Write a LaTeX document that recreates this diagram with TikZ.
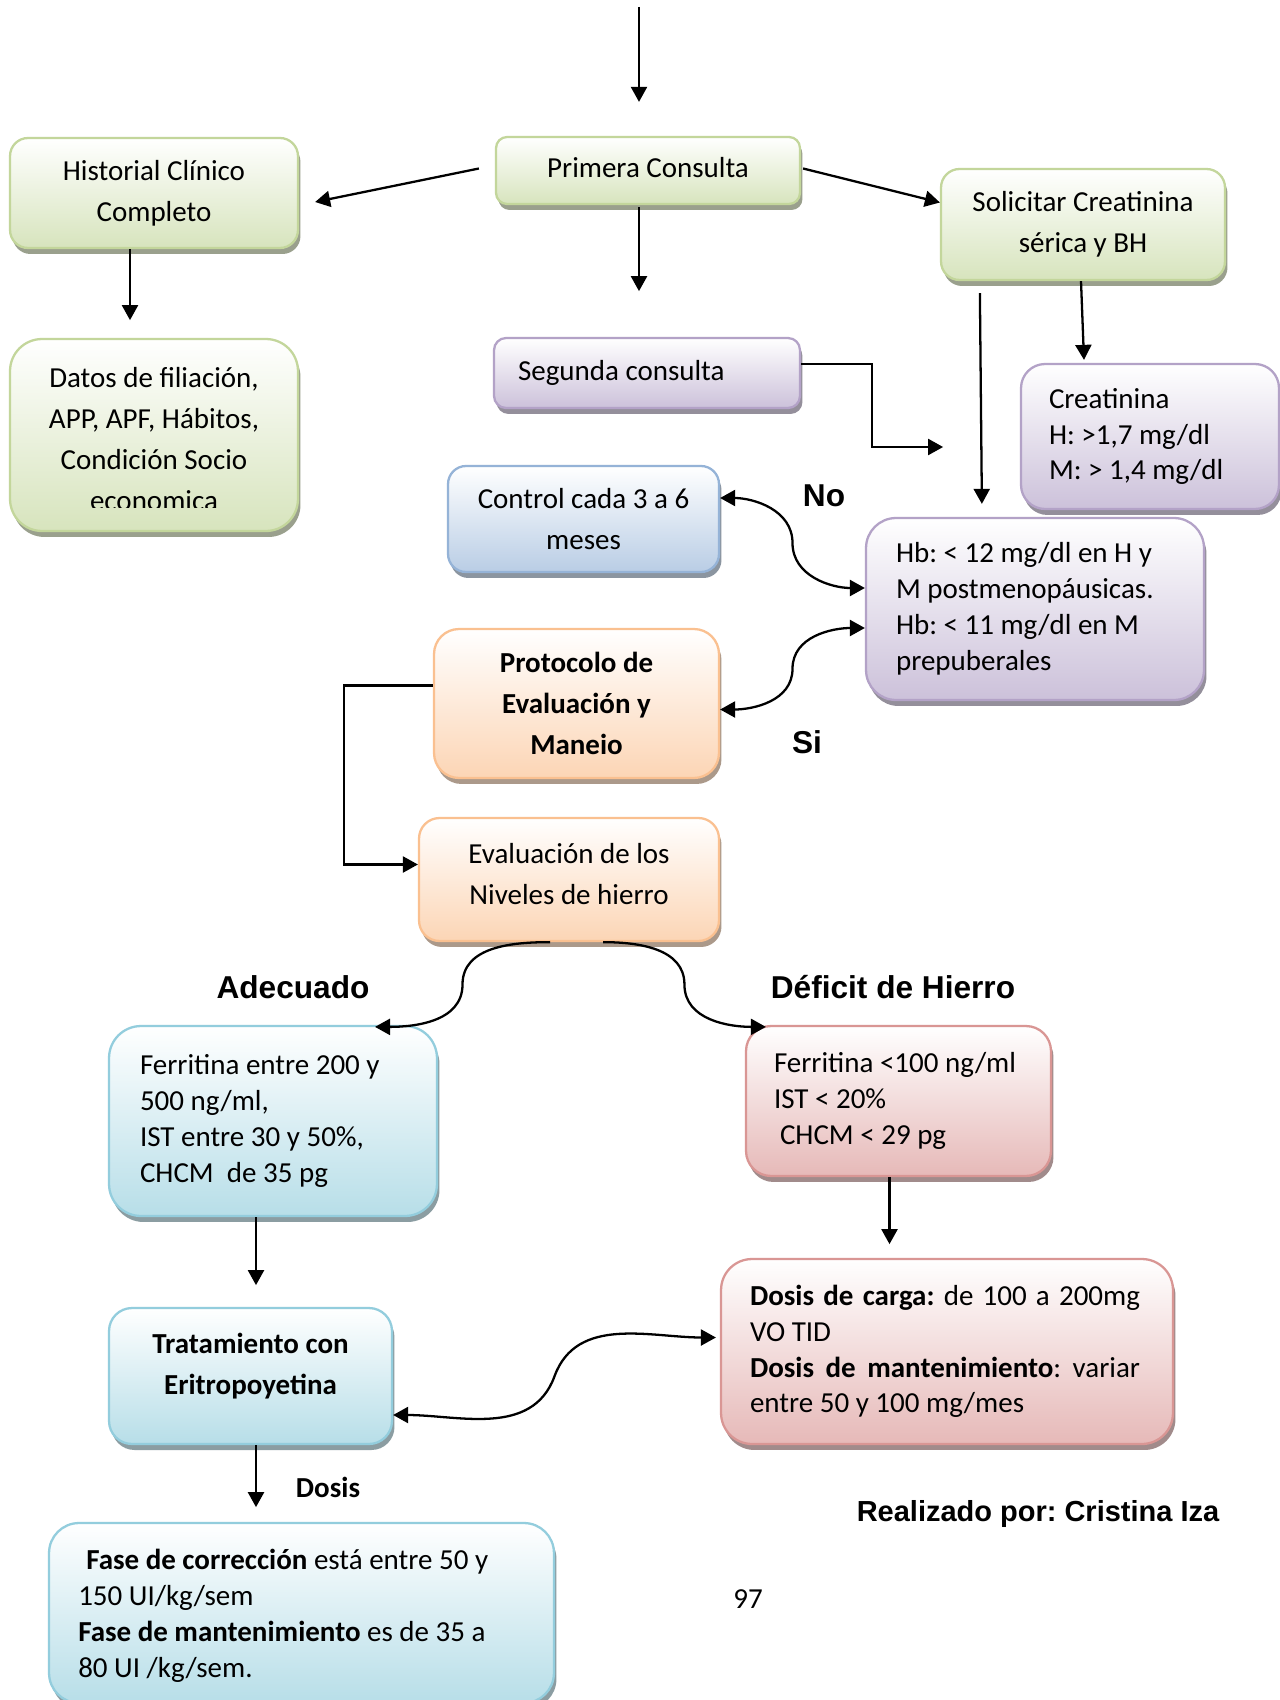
\documentclass[tikz,border=0pt]{standalone}
\usepackage{fontspec}
\setmainfont{Carlito}
\newfontfamily\arialfont{Liberation Sans}
\frenchspacing
\usetikzlibrary{arrows.meta,calc,shadows}
\definecolor{grnline}{HTML}{C3D69B}
\definecolor{grnfill}{HTML}{D7E4BD}
\definecolor{prpline}{HTML}{B3A2C7}
\definecolor{prpfill}{HTML}{CCC1DA}
\definecolor{bluline}{HTML}{95B3D7}
\definecolor{blufill}{HTML}{B9CDE5}
\definecolor{orgline}{HTML}{FAC090}
\definecolor{orgfill}{HTML}{FCD5B5}
\definecolor{cynline}{HTML}{93CDDD}
\definecolor{cynfill}{HTML}{B7DEE8}
\definecolor{redline}{HTML}{D99694}
\definecolor{redfill}{HTML}{E6B9B8}
\tikzset{
    box/.style={rectangle, draw=#1line, line width=1.3pt, rounded corners=0.4cm,
                top color=white, bottom color=#1fill,
                drop shadow={shadow xshift=0.05cm, shadow yshift=-0.12cm,
                             opacity=0.8, fill=#1fill!60!black},
                align=center, inner sep=0pt, font=\fontsize{16.5}{23.3}\selectfont},
    lbox/.style={box=#1, align=flush left, font=\fontsize{16.5}{20.4}\selectfont},
    txt/.style={align=center, inner sep=0pt, font=\fontsize{16.5}{23.3}\selectfont},
    lbl/.style={inner sep=0pt, font=\arialfont\bfseries\fontsize{18}{22}\selectfont},
    arr/.style={-{Triangle[length=0.3cm,width=0.32cm]}, line width=1.3pt},
    arrd/.style={{Triangle[length=0.3cm,width=0.32cm]}-{Triangle[length=0.3cm,width=0.32cm]}, line width=1.3pt},
}
\begin{document}
\begin{tikzpicture}[x=0.02cm, y=-0.02cm]
    \path[use as bounding box, fill=white] (0,0) rectangle (1280,1700);

    % First consultation
    \node[box=grn, minimum width=6.08cm, minimum height=1.34cm, rounded corners=0.22cm, text depth=0.14cm] (prim) at (648,170.5) {Primera Consulta};
    \node[box=grn, minimum width=5.76cm, minimum height=2.2cm, rounded corners=0.36cm]   (hist) at (154,193)   {Historial Clínico\\Completo};
    \node[box=grn, minimum width=5.68cm, minimum height=2.22cm, rounded corners=0.37cm]  (sol)  at (1083,224.5) {Solicitar Creatinina\\sérica y BH};

    \node[box=grn, minimum width=5.76cm, minimum height=3.84cm, rounded corners=0.64cm] (datos) at (154,435) {};
    \begin{scope}
        \clip (datos.north west) rectangle ($(datos.south east)+(0,-25)$);
        \node[txt] (datos-t) at ($(datos.center)+(0,4)$) {Datos de filiación,\\APP, APF, Hábitos,\\Condición Socio\\economica};
    \end{scope}

    \node[lbox=prp, minimum width=6.12cm, minimum height=1.4cm, rounded corners=0.24cm, text width=5.16cm, inner xsep=0.48cm] (seg) at (647,373) {Segunda consulta};
    \node[lbox=prp, minimum width=5.16cm, minimum height=2.9cm, rounded corners=0.48cm, text width=4.04cm, inner xsep=0.56cm] (crea) at (1150,436.5) {Creatinina\\H: >1,7 mg/dl\\M: > 1,4 mg/dl};
    \node[box=blu, minimum width=5.42cm, minimum height=2.12cm, rounded corners=0.36cm] (ctrl) at (583.5,519) {Control cada 3 a 6\\meses};
    \node[lbox=prp, minimum width=6.76cm, minimum height=3.64cm, rounded corners=0.6cm, text width=5.56cm, inner xsep=0.6cm] (hb) at (1035,609) {Hb: < 12 mg/dl en H y\\M postmenopáusicas.\\Hb: < 11 mg/dl en M\\prepuberales};

    % Protocol and iron levels
    \node[box=org, minimum width=5.7cm, minimum height=2.98cm, rounded corners=0.5cm, font=\bfseries\fontsize{16.5}{23.3}\selectfont] (prot) at (576.5,703.5) {Protocolo de\\Evaluación y\\Maneio};
    \node[box=org, minimum width=6cm, minimum height=2.46cm, rounded corners=0.41cm, text depth=0.23cm] (eval) at (569,879.5) {Evaluación de los\\Niveles de hierro};

    \node[lbox=cyn, minimum width=6.56cm, minimum height=3.8cm, rounded corners=0.64cm, text width=5.32cm, inner xsep=0.62cm] (fera) at (273,1121) {Ferritina entre 200 y\\500 ng/ml,\\IST entre 30 y 50\%,\\CHCM\ \ de 35 pg};
    \node[lbox=red, minimum width=6.1cm, minimum height=3cm, rounded corners=0.5cm, text width=4.98cm, inner xsep=0.56cm] (ferd) at (898.5,1101) {Ferritina <100 ng/ml\\IST < 20\%\\\hspace*{0.12cm}CHCM < 29 pg};

    % Treatment
    \node[box=cyn, minimum width=5.66cm, minimum height=2.72cm, rounded corners=0.46cm, text depth=0.5cm, font=\bfseries\fontsize{16.5}{23.3}\selectfont] (trat) at (250.5,1376) {Tratamiento con\\Eritropoyetina};
    \node[lbox=red, minimum width=9.04cm, minimum height=3.7cm, rounded corners=0.62cm, text width=7.88cm, inner xsep=0.58cm] (carga) at (947,1351.5) {\makebox[7.8cm][s]{\textbf{Dosis de carga:} de 100 a 200mg}\\VO TID\\\makebox[7.8cm][s]{\textbf{Dosis de mantenimiento}: variar}\\entre 50 y 100 mg/mes};

    \node[box=cyn, minimum width=10.1cm, minimum height=3.6cm, rounded corners=0.6cm] (fase) at (301.5,1613) {};
    \begin{scope}
        \clip (fase.north west) rectangle ($(fase.south east)+(0,-16)$);
        \node[txt, align=flush left, text width=8.6cm, anchor=west, font=\fontsize{16.5}{20.4}\selectfont] (fase-t) at ($(fase.west)+(30,3)$) {\hspace*{0.16cm}\textbf{Fase de corrección} está entre 50 y\\150 UI/kg/sem\\\textbf{Fase de mantenimiento} es de 35 a\\80 UI /kg/sem.};
    \end{scope}

    % Labels
    \node[lbl] (no)   at (824,496)  {No};
    \node[lbl] (si)   at (807,742)  {Si};
    \node[lbl] (adec) at (293,987)  {Adecuado};
    \node[lbl] (defi) at (893,987)  {Déficit de Hierro};
    \node[txt, font=\bfseries\fontsize{16.5}{20}\selectfont] (dlbl) at (328,1487) {Dosis};
    \node[lbl, font=\arialfont\bfseries\fontsize{16.5}{20}\selectfont] (autor) at (1038,1514) {Realizado por: Cristina Iza};
    \node[txt] (pag) at (748,1599) {97};

    % Straight connectors
    \coordinate (entry) at (639,7);
    \draw[arr] (entry) -- ($(prim.north)+(-9,-34)$);
    \draw[arr] ($(prim.west)+(-16,-2)$) -- ($(hist.east)+(16,9)$);
    \draw[arr] ($(prim.east)+(2,-2)$) -- ($(sol.west)+(0,-22)$);
    \draw[arr] ($(prim.south)+(-9,2)$) -- ++(0,84);
    \draw[arr] ($(hist.south)+(-24,0)$) -- ++(0,71);
    \draw[arr] ($(sol.south)+(-2,0)$) -- ($(crea.north)+(-66,-3)$);
    \draw[arr] ($(sol.south west)+(40,12)$) -- ($(hb.north west)+(117,-13)$);
    \draw[arr] ($(seg.east)+(0,-9)$) -- ++(71,0) -- ++(0,83) -- ++(71,0);
    \draw[arr] ($(prot.west)+(0,-18)$) -- ++(-89,0) |- ($(eval.west)+(0,-15)$);
    \draw[arr] ($(fera.south)+(-17,0)$) -- ++(0,68);
    \draw[arr] ($(ferd.south)+(-9,0)$) -- ++(0,67);
    \draw[arr] ($(trat.south)+(5.5,0)$) -- ++(0,62);

    % Curved connectors
    \coordinate (c1a) at ($(ctrl.east)+(0,-21)$);
    \coordinate (c1b) at ($(hb.west)+(0,-21)$);
    \draw[arrd] (c1a) to[out=0,in=90] ($(c1a)!0.5!(c1b)$) to[out=-90,in=180] (c1b);
    \coordinate (c2a) at ($(hb.west)+(0,19)$);
    \coordinate (c2b) at ($(prot.east)+(0,6)$);
    \draw[arrd] (c2a) to[out=180,in=90] ($(c2a)!0.5!(c2b)$) to[out=-90,in=0] (c2b);
    \coordinate (c3a) at ($(eval.south)+(-19,0)$);
    \coordinate (c3b) at ($(fera.north)+(102,2)$);
    \draw[arr] (c3a) to[out=180,in=90] ($(c3a)!0.5!(c3b)$) to[out=-90,in=0] (c3b);
    \coordinate (c4a) at ($(eval.south)+(34,0)$);
    \coordinate (c4b) at ($(ferd.north west)+(21,2)$);
    \draw[arr] (c4a) to[out=0,in=90] ($(c4a)!0.5!(c4b)$) to[out=-90,in=180] (c4b);
    \coordinate (c5a) at ($(trat.east)+(0,39)$);
    \coordinate (c5b) at ($(carga.west)+(-4,-14)$);
    \draw[arrd] (c5a) to[out=0,in=-110] ($(c5a)!0.5!(c5b)$) to[out=70,in=180] (c5b);
\end{tikzpicture}
\end{document}
